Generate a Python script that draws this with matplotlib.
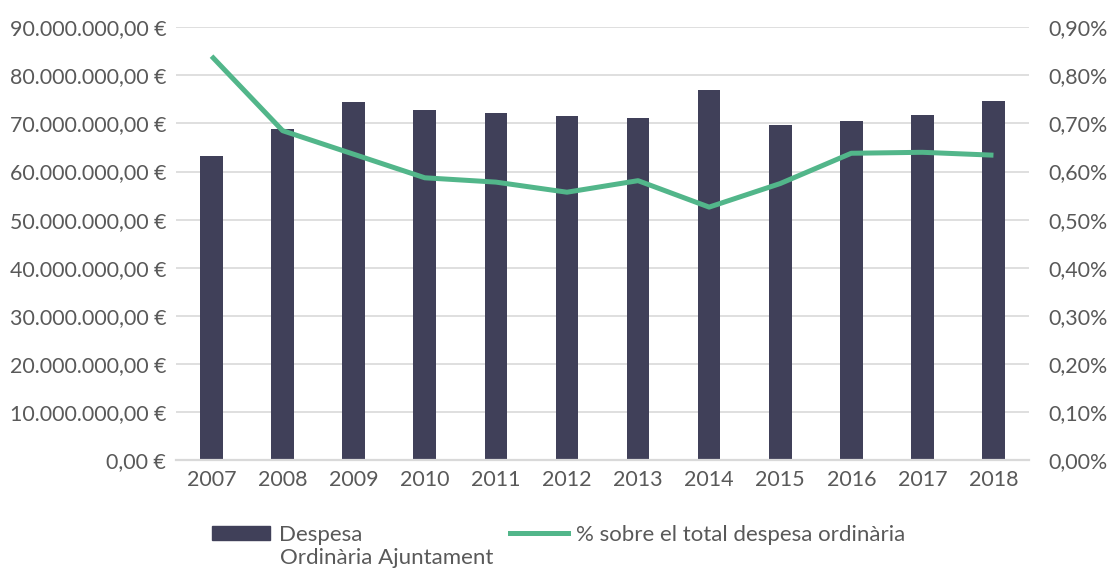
import matplotlib
matplotlib.use('Agg')
import matplotlib.pyplot as plt
from matplotlib.patches import Patch
from matplotlib.lines import Line2D
from matplotlib.ticker import FuncFormatter
import numpy as np

years = ['2007', '2008', '2009', '2010', '2011', '2012',
         '2013', '2014', '2015', '2016', '2017', '2018']
despesa = [63.2e6, 68.8e6, 74.5e6, 72.8e6, 72.2e6, 71.5e6,
           71.1e6, 77.0e6, 69.7e6, 70.5e6, 71.8e6, 74.7e6]
percent = [0.840, 0.685, 0.636, 0.587, 0.578, 0.557,
           0.581, 0.526, 0.575, 0.638, 0.640, 0.634]

bar_color = '#404059'
line_color = '#52B68A'
txt = '#595959'
grid = '#D9D9D9'

plt.rcParams['font.family'] = ['Lato', 'DejaVu Sans']
plt.rcParams['font.size'] = 14

fig = plt.figure(figsize=(11.13, 5.69), dpi=100)
ax = fig.add_axes([176 / 1113, 1 - 460 / 569, (1029 - 176) / 1113, (460 - 27.3) / 569])
ax2 = ax.twinx()

x = np.arange(len(years))
ax.bar(x, despesa, width=0.32, color=bar_color, zorder=2)
ax2.plot(x, percent, color=line_color, lw=3.6, zorder=3, solid_capstyle='butt')

ax.set_xlim(-0.5, len(years) - 0.5)
ax.set_ylim(0, 90e6)
ax.set_yticks(np.arange(0, 90e6 + 1, 10e6))
ax2.set_ylim(0, 0.9)
ax2.set_yticks(np.arange(0, 0.91, 0.1))


def euro(v, pos):
    s = '{:,.2f}'.format(v).replace(',', 'X').replace('.', ',').replace('X', '.')
    return s + ' €'


def pct(v, pos):
    return '{:.2f}%'.format(v).replace('.', ',')


ax.yaxis.set_major_formatter(FuncFormatter(euro))
ax2.yaxis.set_major_formatter(FuncFormatter(pct))
ax.set_xticks(x)
ax.set_xticklabels(years)

ax.grid(axis='y', color=grid, lw=1.2, zorder=0)
ax.set_axisbelow(True)
for a in (ax, ax2):
    for s in a.spines.values():
        s.set_visible(False)
ax.spines['bottom'].set_visible(True)
ax.spines['bottom'].set_color(grid)
ax.spines['bottom'].set_linewidth(1.6)

ax.tick_params(axis='y', length=0, pad=7, colors=txt, labelsize=15.4)
ax.tick_params(axis='x', length=0, pad=7, colors=txt, labelsize=15.5)
ax2.tick_params(axis='y', length=0, pad=14, colors=txt, labelsize=15.4)

leg_fs = 16
fig.legend(handles=[Patch(color=bar_color)], labels=['Despesa'],
           loc='center left', bbox_to_anchor=(212 / 1113, 1 - 535 / 569),
           frameon=False, borderpad=0, borderaxespad=0, handlelength=2.62,
           handleheight=0.63, handletextpad=0.4, fontsize=leg_fs, labelcolor=txt)
fig.text(280 / 1113, 1 - 558 / 569, 'Ordinària Ajuntament', fontsize=leg_fs,
         color=txt, ha='left', va='center')
fig.legend(handles=[Line2D([], [], color=line_color, lw=3.6)],
           labels=['% sobre el total despesa ordinària'],
           loc='center left', bbox_to_anchor=(510 / 1113, 1 - 535 / 569),
           frameon=False, borderpad=0, borderaxespad=0, handlelength=2.62,
           handletextpad=0.35, fontsize=leg_fs, labelcolor=txt)

fig.savefig('out.png', dpi=100)
